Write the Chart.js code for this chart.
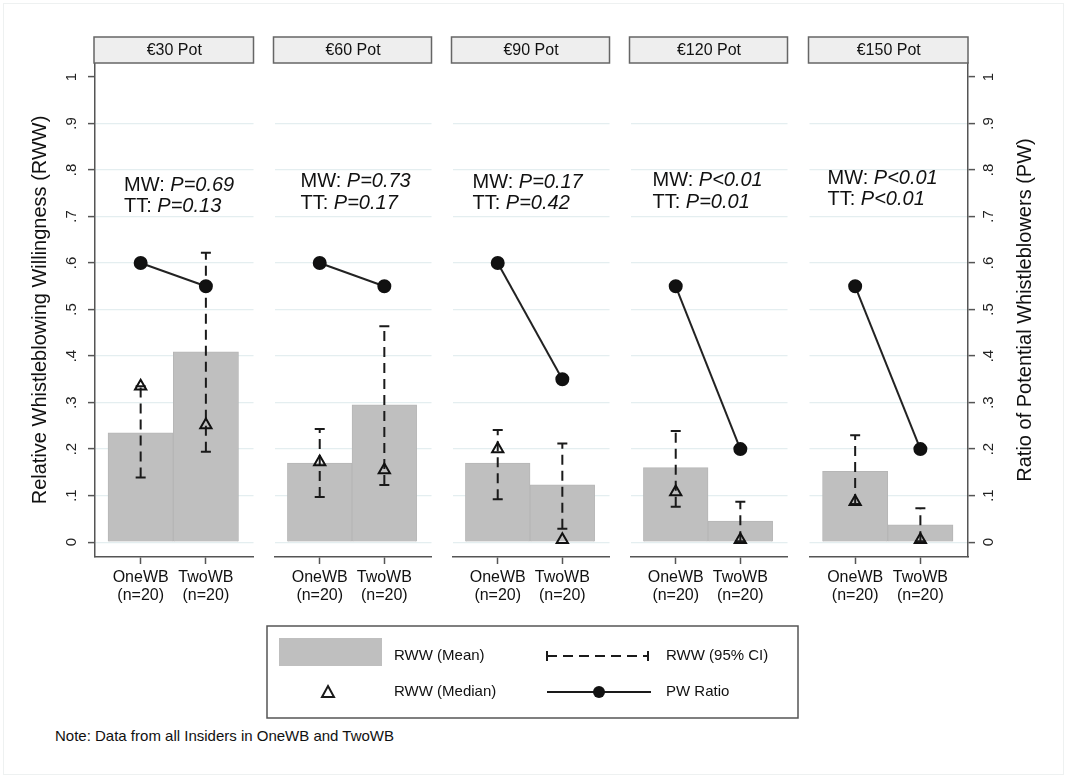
<!DOCTYPE html>
<html>
<head>
<meta charset="utf-8">
<script src="https://cdn.jsdelivr.net/npm/chart.js@4.4.1/dist/chart.umd.min.js"></script>
<style>
  body { margin: 0; background: #fff; font-family: "Liberation Sans", Arial, sans-serif; }
  #wrap { position: relative; width: 1066px; height: 776px; overflow: hidden; }
  #frame { position: absolute; left: 3px; top: 3px; width: 1059px; height: 770px; border: 1px solid #eef1f1; }
  .panel { position: absolute; top: 0; }
  #legend { position: absolute; left: 266px; top: 625px; }
  #note { position: absolute; left: 55px; top: 727px; font-size: 15px; color: #111; }
</style>
</head>
<body>
<div id="wrap">
  <div id="frame"></div>
  <div id="panels"></div>
  <canvas id="legend" width="534" height="95"></canvas>
  <div id="note">Note: Data from all Insiders in OneWB and TwoWB</div>
</div>
<script>
// values
const pots = ["€30 Pot", "€60 Pot", "€90 Pot", "€120 Pot", "€150 Pot"];
const groups = ["OneWB", "TwoWB"];
const groupN = ["(n=20)", "(n=20)"];
const rwwMean   = [[0.235, 0.409], [0.170, 0.295], [0.170, 0.123], [0.160, 0.045], [0.152, 0.037]];
const rwwMedian = [[0.335, 0.252], [0.172, 0.155], [0.200, 0.005], [0.108, 0.005], [0.087, 0.005]];
const ciLow     = [[0.139, 0.194], [0.097, 0.123], [0.092, 0.029], [0.076, 0.002], [0.082, 0.002]];
const ciHigh    = [[0.335, 0.622], [0.243, 0.464], [0.241, 0.212], [0.239, 0.087], [0.230, 0.073]];
const pwRatio   = [[0.60, 0.55], [0.60, 0.55], [0.60, 0.35], [0.55, 0.20], [0.55, 0.20]];
const mwP = ["P=0.69", "P=0.73", "P=0.17", "P<0.01", "P<0.01"];
const ttP = ["P=0.13", "P=0.17", "P=0.42", "P=0.01", "P<0.01"];
const yTicks = [0, 0.1, 0.2, 0.3, 0.4, 0.5, 0.6, 0.7, 0.8, 0.9, 1];
const yTickLabels = ["0", ".1", ".2", ".3", ".4", ".5", ".6", ".7", ".8", ".9", "1"];

// layout
const FONT = '"Liberation Sans", Arial, sans-serif';
const panelLeft = [95, 273, 451, 629, 808];
const panelWidth = 160;
const canvasHeight = 625;
const noteOffsetX = [29, 26, 20, 22, 18];
const noteY = [0.767, 0.775, 0.774, 0.777, 0.782];

const panelDecor = {
  id: "panelDecor",
  afterDraw(chart, args, opts) {
    const { ctx, chartArea: a, scales: { y } } = chart;
    const i = opts.index;
    ctx.save();
    ctx.fillStyle = "#eeeeee";
    ctx.strokeStyle = "#666";
    ctx.lineWidth = 1.5;
    ctx.fillRect(a.left - 1, a.top - 26, a.right - a.left + 1, 26);
    ctx.strokeRect(a.left - 1, a.top - 26, a.right - a.left + 1, 26);
    ctx.fillStyle = "#111";
    ctx.font = "16px " + FONT;
    ctx.textAlign = "center";
    ctx.textBaseline = "middle";
    ctx.fillText(pots[i], (a.left + a.right) / 2, a.top - 12.5);

    // MW / TT p-values
    ctx.textAlign = "left";
    const x0 = a.left + noteOffsetX[i];
    const y0 = y.getPixelForValue(noteY[i]);
    [["MW: ", mwP[i]], ["TT: ", ttP[i]]].forEach((pair, k) => {
      const yy = y0 + k * 21.5;
      ctx.font = "20px " + FONT;
      ctx.fillText(pair[0], x0, yy);
      const w = ctx.measureText(pair[0]).width;
      ctx.font = "italic 20px " + FONT;
      ctx.fillText(pair[1], x0 + w, yy);
    });

    if (opts.rightTitle) {
      ctx.translate(a.right + 57, (a.top + a.bottom) / 2);
      ctx.rotate(-Math.PI / 2);
      ctx.textAlign = "center";
      ctx.font = "20px " + FONT;
      ctx.fillText(opts.rightTitle, 0, 0);
    }
    ctx.restore();
  }
};

const ciBars = {
  id: "ciBars",
  afterDatasetDraw(chart, args, opts) {
    if (args.index !== 0) return;
    const { ctx, scales: { x, y } } = chart;
    const i = opts.index;
    ctx.save();
    ctx.strokeStyle = "#1a1a1a";
    ctx.lineWidth = 2;
    groups.forEach((g, k) => {
      const px = x.getPixelForValue(k + 1);
      const top = y.getPixelForValue(ciHigh[i][k]);
      const bot = y.getPixelForValue(ciLow[i][k]);
      ctx.setLineDash([10, 6]);
      ctx.beginPath();
      ctx.moveTo(px, bot);
      ctx.lineTo(px, top);
      ctx.stroke();
      ctx.setLineDash([]);
      ctx.beginPath();
      ctx.moveTo(px - 5, top); ctx.lineTo(px + 5, top);
      ctx.moveTo(px - 5, bot); ctx.lineTo(px + 5, bot);
      ctx.stroke();
    });
    ctx.restore();
  }
};

function yAxis(i) {
  const first = i === 0;
  const last = i === pots.length - 1;
  return {
    type: "linear",
    min: -0.032,
    max: 1.03,
    position: last ? "right" : "left",
    afterBuildTicks: s => { s.ticks = yTicks.map(v => ({ value: v })); },
    afterFit: s => { s.width = first ? 95 : last ? 98 : 0; },
    border: { display: first || last, color: "#555", width: 1.5 },
    grid: {
      color: c => (c.tick && c.tick.value === 1 ? "rgba(0,0,0,0)" : "#e4eef0"),
      lineWidth: 1.2,
      drawTicks: first || last,
      tickLength: 7,
      tickColor: "#555",
      tickWidth: 1.5
    },
    ticks: {
      display: first || last,
      minRotation: 90,
      maxRotation: 90,
      crossAlign: "center",
      padding: first ? 10 : 8,
      font: { family: FONT, size: 15 },
      color: "#222",
      callback: v => yTickLabels[yTicks.indexOf(v)]
    },
    title: {
      display: first,
      text: "Relative Whistleblowing Willingness (RWW)",
      font: { family: FONT, size: 20 },
      color: "#111",
      padding: { top: 28, bottom: 0 }
    }
  };
}

const charts = [];
pots.forEach((pot, i) => {
  const first = i === 0;
  const last = i === pots.length - 1;
  const left = first ? 0 : panelLeft[i] - 7;
  const width = first ? panelLeft[0] + panelWidth + 7 : last ? 1066 - left : panelWidth + 14;

  const holder = document.createElement("div");
  holder.className = "panel";
  holder.style.left = left + "px";
  const canvas = document.createElement("canvas");
  canvas.width = width;
  canvas.height = canvasHeight;
  holder.appendChild(canvas);
  document.getElementById("panels").appendChild(holder);

  const chart = new Chart(canvas.getContext("2d"), {
    type: "bar",
    data: {
      datasets: [
        {
          label: "RWW (Mean)",
          data: groups.map((g, k) => ({ x: k + 1, y: rwwMean[i][k] })),
          backgroundColor: "#bfbfbf",
          borderColor: "#b6b6b6",
          borderWidth: 1,
          barPercentage: 1,
          categoryPercentage: 1,
          order: 3
        },
        {
          type: "line",
          label: "RWW (Median)",
          data: groups.map((g, k) => ({ x: k + 1, y: rwwMedian[i][k] })),
          showLine: false,
          pointStyle: "triangle",
          pointRadius: 6.5,
          pointBorderWidth: 2,
          pointBorderColor: "#111",
          pointBackgroundColor: "rgba(0,0,0,0)",
          order: 1
        },
        {
          type: "line",
          label: "PW Ratio",
          data: groups.map((g, k) => ({ x: k + 1, y: pwRatio[i][k] })),
          borderColor: "#222",
          borderWidth: 2,
          pointRadius: 6,
          pointBackgroundColor: "#111",
          pointBorderColor: "#111",
          order: 0
        }
      ]
    },
    options: {
      responsive: false,
      animation: false,
      layout: { padding: { top: 63, bottom: 0, left: first ? 0 : 7, right: last ? 0 : 7 } },
      plugins: {
        legend: { display: false },
        tooltip: { enabled: false },
        panelDecor: { index: i, rightTitle: last ? "Ratio of Potential Whistleblowers (PW)" : null },
        ciBars: { index: i }
      },
      scales: {
        x: {
          type: "linear",
          offset: false,
          min: 0.3,
          max: 2.73,
          afterBuildTicks: s => { s.ticks = groups.map((g, k) => ({ value: k + 1 })); },
          afterFit: s => { s.height = canvasHeight - 557; },
          border: { display: true, color: "#555", width: 1.5 },
          grid: { offset: false, drawOnChartArea: false, drawTicks: true, tickLength: 7, tickColor: "#555", tickWidth: 1.5 },
          ticks: {
            maxRotation: 0,
            padding: 5,
            font: { family: FONT, size: 16, lineHeight: 1.1 },
            color: "#111",
            callback: v => [groups[v - 1], groupN[v - 1]]
          }
        },
        y: yAxis(i)
      }
    },
    plugins: [ciBars, panelDecor]
  });
  charts.push(chart);
});

// legend box
function drawLegend() {
  const g = document.getElementById("legend").getContext("2d");
  g.strokeStyle = "#555";
  g.lineWidth = 1.5;
  g.strokeRect(1, 1, 531, 92);
  g.fillStyle = "#bfbfbf";
  g.fillRect(13, 13, 103, 28);
  g.fillStyle = "#111";
  g.font = "15px " + FONT;
  g.textBaseline = "middle";
  g.fillText("RWW (Mean)", 128, 31);
  g.fillText("RWW (95% CI)", 400, 31);
  g.fillText("RWW (Median)", 128, 67);
  g.fillText("PW Ratio", 400, 67);

  g.strokeStyle = "#1a1a1a";
  g.lineWidth = 2;
  g.setLineDash([10, 6]);
  g.beginPath(); g.moveTo(281, 31); g.lineTo(382, 31); g.stroke();
  g.setLineDash([]);
  g.beginPath();
  g.moveTo(281, 26); g.lineTo(281, 36);
  g.moveTo(382, 26); g.lineTo(382, 36);
  g.stroke();

  // median marker
  g.lineWidth = 2;
  g.beginPath();
  g.moveTo(62, 61); g.lineTo(68, 72); g.lineTo(56, 72); g.closePath();
  g.stroke();

  // PW line
  g.beginPath(); g.moveTo(281, 67); g.lineTo(385, 67); g.stroke();
  g.fillStyle = "#111";
  g.beginPath(); g.arc(333, 67, 6, 0, Math.PI * 2); g.fill();
}
drawLegend();
</script>
</body>
</html>
